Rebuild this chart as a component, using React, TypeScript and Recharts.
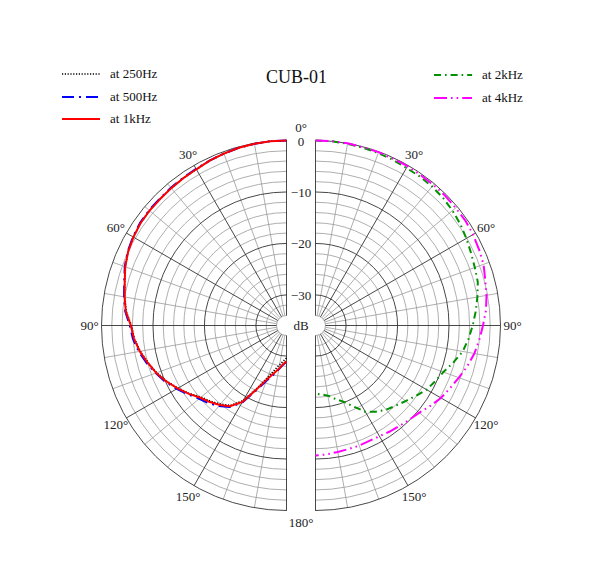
import { Legend, PolarAngleAxis, PolarGrid, PolarRadiusAxis, Radar, RadarChart } from "recharts";

// polar pattern, sampled every 5 degrees (0 = front, 180 = rear)
const angles = [
  0, 5, 10, 15, 20, 25, 30, 35, 40, 45, 50, 55, 60, 65, 70, 75, 80, 85, 90, 95, 100, 105, 110, 115, 120,
  125, 130, 135, 140, 145, 150, 155, 160, 165, 170, 175, 180,
];
const at250 = [
  0, 0, -0.1, -0.2, -0.4, -0.6, -0.9, -1.0, -1.1, -1.2, -1.2, -1.3, -1.6, -2.0, -2.6, -3.4, -4.0, -4.7, -5.8,
  -6.3, -7.1, -8.1, -9.1, -10.3, -11.6, -12.9, -14.3, -15.1, -16.0, -17.0, -19.1, -22.6, -25.2, -27.0, -28.2,
  -29.0, -29.6,
];
const at500 = [
  0, 0, -0.1, -0.2, -0.4, -0.6, -0.8, -0.9, -1.0, -1.1, -1.1, -1.2, -1.5, -1.9, -2.5, -3.3, -3.9, -4.5, -5.5,
  -6.0, -6.8, -7.8, -8.9, -10.0, -11.3, -12.6, -13.8, -14.6, -15.5, -16.6, -18.6, -22.0, -24.5, -26.0, -27.3,
  -28.3, -28.9,
];
const at1k = [
  0, 0, -0.1, -0.2, -0.4, -0.6, -0.9, -1.0, -1.1, -1.2, -1.2, -1.3, -1.6, -2.0, -2.6, -3.4, -4.0, -4.6, -5.7,
  -6.2, -7.0, -8.0, -9.0, -10.2, -11.5, -12.8, -14.1, -14.9, -15.8, -16.8, -18.8, -22.3, -24.8, -26.3, -27.4,
  -28.4, -29.0,
];
const at2k = [
  0, 0, -0.1, -0.2, -0.3, -0.4, -0.6, -0.6, -0.7, -0.9, -1.2, -1.6, -2.1, -2.6, -3.0, -3.3, -4.0, -4.7, -5.4,
  -6.1, -6.9, -8.2, -9.5, -10.3, -11.0, -12.1, -13.1, -13.9, -14.6, -15.5, -16.6, -18.6, -20.2, -21.2, -22.1,
  -22.5, -22.7,
];
const at4k = [
  0, 0, 0, -0.1, -0.1, -0.2, -0.2, -0.3, -0.3, -0.3, -0.4, -0.4, -0.6, -0.9, -1.2, -1.8, -2.2, -2.7, -3.4,
  -4.0, -4.6, -5.4, -6.3, -7.1, -7.8, -8.7, -9.6, -10.1, -10.5, -10.8, -11.1, -11.2, -11.1, -11.1, -11.0,
  -10.8, -10.7,
];

const angleTicks = [0, 30, 60, 90, 120, 150, 180];
const minorAngles = [10, 20, 40, 50, 70, 80, 100, 110, 130, 140, 160, 170];
const dbTicks = [0, -10, -20, -30];
const minorDb = [-34, -32, -28, -26, -24, -22, -18, -16, -14, -12, -8, -6, -4, -2];
const DB_MIN = -34;

const W = 600;
const H = 562;
const LEFT_CX = 286.5;
const RIGHT_CX = 315.5;
const CY = 325.5;
const INNER = 10;
const OUTER = 185;
const MID_X = (LEFT_CX + RIGHT_CX) / 2;
const FONT = '"Liberation Serif", "DejaVu Serif", serif';
const DARK = "#333";
const LIGHT = "#9a9a9a";

type Side = "left" | "right";
type Series = { key: string; name: string; color: string; width: number; dash?: string };

const leftSeries: Series[] = [
  { key: "at250", name: "at 250Hz", color: "#000", width: 1.6, dash: "1.2 1.6" },
  { key: "at500", name: "at 500Hz", color: "#0000ff", width: 2, dash: "12 5 2 5" },
  { key: "at1k", name: "at 1kHz", color: "#ff0000", width: 2 },
];
const rightSeries: Series[] = [
  { key: "at2k", name: "at 2kHz", color: "#009000", width: 2, dash: "7 4 1.6 4" },
  { key: "at4k", name: "at 4kHz", color: "#ff00ff", width: 2, dash: "13 4 1.6 4 1.6 4" },
];

const leftData = angles.map((angle, i) => ({ angle, at250: at250[i], at500: at500[i], at1k: at1k[i] }));
const rightData = angles.map((angle, i) => ({ angle, at2k: at2k[i], at4k: at4k[i] }));

// pixel radius of a dB value, same linear mapping as the radius axis
const radiusOf = (db: number) => INNER + ((db - DB_MIN) / (0 - DB_MIN)) * (OUTER - INNER);

function OpenCurve({ points, s }: { points: any[]; s: Series }) {
  if (!points || !points.length) return null;
  const d = points.map((p, i) => `${i ? "L" : "M"}${p.x},${p.y}`).join(" ");
  return (
    <path d={d} fill="none" stroke={s.color} strokeWidth={s.width} strokeDasharray={s.dash} strokeLinejoin="round" />
  );
}

function LegendBox({ payload, series }: { payload?: any[]; series: Series[] }) {
  const names = (payload || []).map((e) => e.value);
  return (
    <div style={{ fontFamily: FONT, fontSize: 13, color: "#111" }}>
      {series
        .filter((s) => names.includes(s.name))
        .map((s) => (
          <div key={s.key} style={{ display: "flex", alignItems: "center", height: 22.5 }}>
            <svg width={40} height={10} style={{ marginRight: 8 }}>
              <line x1={0} x2={38} y1={5} y2={5} stroke={s.color} strokeWidth={s.width} strokeDasharray={s.dash} />
            </svg>
            <span>{s.name}</span>
          </div>
        ))}
    </div>
  );
}

function AngleTick(props: any, side: Side) {
  const v = props.payload?.value;
  const edge = v === 0 || v === 180;
  if (edge && side === "right") return <g />;
  const x = edge ? props.x + (MID_X - LEFT_CX) : props.x;
  const y = v === 0 ? props.y - 1.5 : props.y;
  return (
    <text x={x} y={y} textAnchor="middle" dominantBaseline="central" fontFamily={FONT} fontSize={13} fill="#222">
      {`${v}°`}
    </text>
  );
}

function DbTick(props: any) {
  const v = props.payload?.value;
  return (
    <text
      x={props.x + (MID_X - LEFT_CX)}
      y={props.y + 0.5}
      textAnchor="middle"
      dominantBaseline="central"
      fontFamily={FONT}
      fontSize={13}
      fill="#222"
    >
      {v === 0 ? "0" : `−${Math.abs(v)}`}
    </text>
  );
}

function chartProps(side: Side) {
  const isLeft = side === "left";
  return {
    width: W,
    height: H,
    data: isLeft ? leftData : rightData,
    cx: isLeft ? LEFT_CX : RIGHT_CX,
    cy: CY,
    innerRadius: INNER,
    outerRadius: OUTER,
    startAngle: 90,
    endAngle: isLeft ? 270 : -90,
    margin: { top: 0, right: 0, bottom: 0, left: 0 },
  };
}

// grid of one half; the wrapper clips the far half of the circles away
function HalfGrid({ side }: { side: Side }) {
  const isLeft = side === "left";
  const toAngle = (t: number) => (isLeft ? 90 + t : 90 - t);
  const clip = isLeft ? `inset(0 ${W - LEFT_CX - 0.6}px 0 0)` : `inset(0 0 0 ${RIGHT_CX - 0.6}px)`;
  return (
    <div style={{ position: "absolute", left: 0, top: 0, clipPath: clip }}>
      <RadarChart {...chartProps(side)}>
        <PolarGrid gridType="circle" radialLines={false} polarRadius={minorDb.map(radiusOf)} stroke={LIGHT} strokeWidth={0.8} />
        <PolarGrid gridType="circle" polarAngles={minorAngles.map(toAngle)} polarRadius={[]} stroke={LIGHT} strokeWidth={0.8} />
        <PolarGrid gridType="circle" radialLines={false} polarRadius={dbTicks.map(radiusOf)} stroke={DARK} strokeWidth={0.9} />
        <PolarGrid gridType="circle" polarAngles={angleTicks.map(toAngle)} polarRadius={[]} stroke={DARK} strokeWidth={0.9} />
        <PolarRadiusAxis angle={90} type="number" domain={[DB_MIN, 0]} axisLine={false} tick={false} />
        <PolarAngleAxis dataKey="angle" type="number" domain={[0, 180]} axisLine={false} tick={false} />
      </RadarChart>
    </div>
  );
}

function HalfSeries({ side }: { side: Side }) {
  const isLeft = side === "left";
  const series = isLeft ? leftSeries : rightSeries;
  return (
    <div style={{ position: "absolute", left: 0, top: 0 }}>
      <RadarChart {...chartProps(side)}>
        <PolarRadiusAxis
          angle={90}
          type="number"
          domain={[DB_MIN, 0]}
          ticks={dbTicks as any}
          axisLine={false}
          tickLine={false}
          tick={isLeft ? (p: any) => DbTick(p) : false}
        />
        <PolarAngleAxis
          dataKey="angle"
          type="number"
          domain={[0, 180]}
          ticks={angleTicks as any}
          tickSize={12}
          axisLine={false}
          tickLine={false}
          tick={(p: any) => AngleTick(p, side)}
        />
        {series.map((s) => (
          <Radar
            key={s.key}
            dataKey={s.key}
            name={s.name}
            stroke={s.color}
            fill="none"
            isAnimationActive={false}
            shape={(p: any) => <OpenCurve points={p.points} s={s} />}
          />
        ))}
        <Legend
          layout="vertical"
          align="center"
          verticalAlign="middle"
          wrapperStyle={{ left: isLeft ? 62 : 434, top: isLeft ? 63 : 64, width: 140 }}
          content={(p: any) => <LegendBox payload={p.payload} series={series} />}
        />
        {isLeft && (
          <>
            <text x={296.5} y={77} textAnchor="middle" dominantBaseline="central" fontFamily={FONT} fontSize={18} fill="#111">
              CUB-01
            </text>
            <text x={MID_X} y={CY} textAnchor="middle" dominantBaseline="central" fontFamily={FONT} fontSize={13} fill="#222">
              dB
            </text>
          </>
        )}
      </RadarChart>
    </div>
  );
}

export default function App() {
  return (
    <div style={{ position: "absolute", left: 0, top: 0, width: W, height: H, background: "#fff" }}>
      <HalfGrid side="left" />
      <HalfGrid side="right" />
      <HalfSeries side="left" />
      <HalfSeries side="right" />
    </div>
  );
}
